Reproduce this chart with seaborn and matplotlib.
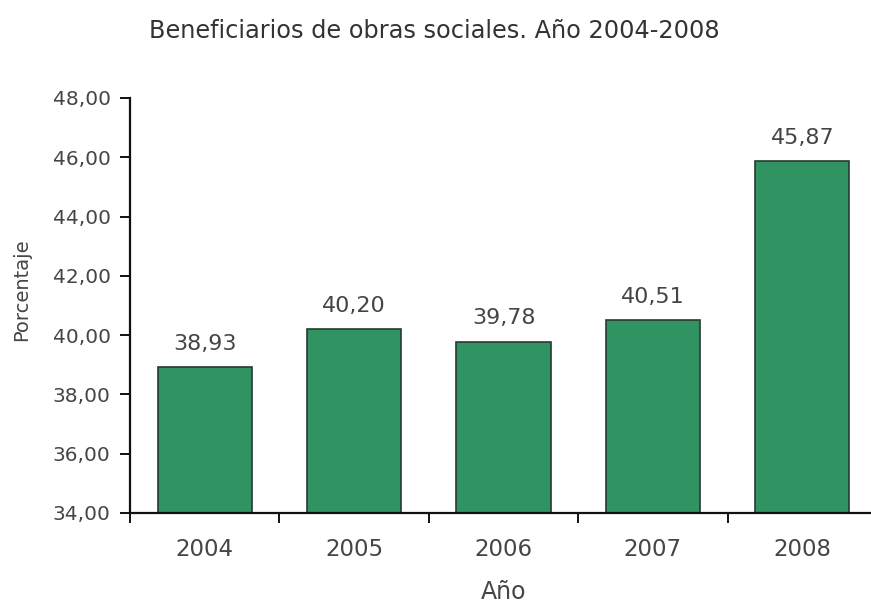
import matplotlib
matplotlib.use("Agg")
import matplotlib.pyplot as plt
import seaborn as sns
import pandas as pd
from matplotlib.ticker import FixedLocator, FuncFormatter

years = ["2004", "2005", "2006", "2007", "2008"]
values = [38.93, 40.20, 39.78, 40.51, 45.87]
yticks = [34, 36, 38, 40, 42, 44, 46, 48]

df = pd.DataFrame({"Año": years, "Porcentaje": values})

sns.set_style("white")
plt.rcParams['font.family'] = ['DejaVu Sans']
txt = "#454545"

fig = plt.figure(figsize=(8.71, 6.09), dpi=100)
ax = fig.add_axes([130/871, 1 - 513/609, 747/871, (513 - 98)/609])

sns.barplot(data=df, x="Año", y="Porcentaje", color="#2f9362", saturation=1,
            edgecolor="#2a3a30", linewidth=1.2, width=0.63, ax=ax)

ax.set_ylim(34, 48)
ax.set_xlim(-0.5, 4.5)
ax.set_yticks(yticks)
ax.yaxis.set_major_formatter(FuncFormatter(lambda v, p: f"{v:.2f}".replace(".", ",")))

for i, v in enumerate(values):
    ax.text(i, v + 0.45, f"{v:.2f}".replace(".", ","), ha="center", va="bottom",
            fontsize=16, color=txt)

for s in ["top", "right"]:
    ax.spines[s].set_visible(False)
for s in ["left", "bottom"]:
    ax.spines[s].set_color("#111111")
    ax.spines[s].set_linewidth(1.6)

ax.tick_params(axis="y", which="major", direction="out", length=7, width=1.4,
               color="#111111", labelsize=14.5, labelcolor=txt, left=True, pad=7)
ax.tick_params(axis="x", which="major", length=0, labelsize=16.5, labelcolor=txt, pad=18)
ax.xaxis.set_minor_locator(FixedLocator([-0.5, 0.5, 1.5, 2.5, 3.5]))
ax.tick_params(axis="x", which="minor", direction="out", length=7, width=1.4,
               color="#111111", bottom=True)

ax.set_xlabel("Año", fontsize=17, color=txt, labelpad=14)
ax.set_ylabel("Porcentaje", fontsize=14, color=txt)
ax.yaxis.set_label_coords(-0.1325, 0.537)
fig.suptitle("Beneficiarios de obras sociales. Año 2004-2008", x=434/871, y=1 - 19/609,
             va="top", fontsize=17.3, color="#333333")

fig.savefig("out.png", dpi=100)
